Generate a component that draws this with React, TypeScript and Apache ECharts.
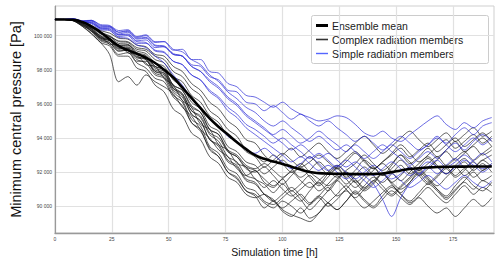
import React, { useEffect, useRef } from 'react';
import * as echarts from 'echarts';

// Simulation time [h], sampled every 4 h
const hours = [0, 4, 8, 12, 16, 20, 24, 28, 32, 36, 40, 44, 48, 52, 56, 60, 64, 68, 72, 76, 80, 84, 88, 92, 96, 100, 104, 108, 112, 116, 120, 124, 128, 132, 136, 140, 144, 148, 152, 156, 160, 164, 168, 172, 176, 180, 184, 188, 192];

// Minimum central pressure [Pa]
const ensembleMean = [100950, 100950, 100930, 100800, 100550, 100200, 99800, 99400, 99150, 98950, 98700, 98400, 98000, 97550, 96950, 96350, 95750, 95150, 94650, 94200, 93750, 93350, 93000, 92780, 92620, 92480, 92320, 92150, 92010, 91940, 91910, 91900, 91890, 91880, 91880, 91890, 91920, 92000, 92100, 92180, 92230, 92270, 92300, 92310, 92320, 92320, 92330, 92330, 92330];

const complex01 = [100950, 100950, 100880, 100550, 100100, 99600, 98900, 97300, 97600, 97100, 97700, 97300, 97000, 96600, 95800, 95300, 94500, 94000, 93300, 92900, 92200, 91800, 92100, 91400, 91100, 91600, 90900, 91300, 91800, 91300, 91900, 92300, 91700, 92100, 92700, 92300, 91800, 92400, 93000, 92500, 92900, 93400, 92900, 93300, 93800, 93200, 93600, 94000, 93500];
const complex02 = [100950, 100950, 100880, 100600, 100250, 99700, 99500, 98900, 99000, 98400, 98100, 97500, 97300, 96400, 95900, 94900, 94400, 93400, 92900, 92000, 91600, 90900, 90600, 89900, 90300, 89700, 89400, 89900, 89300, 89600, 90200, 89800, 90300, 90900, 90400, 90000, 90600, 91100, 90700, 90300, 90800, 91300, 90900, 90400, 90900, 91400, 91000, 91500, 91200];
const complex03 = [100950, 100950, 100900, 100750, 100250, 100000, 99500, 99450, 99000, 98900, 98300, 98200, 97500, 97100, 96200, 95800, 94800, 94500, 93600, 93300, 92500, 92300, 91600, 91300, 90800, 91300, 90700, 90300, 90900, 91400, 90900, 91500, 92000, 91400, 90900, 91300, 91900, 91300, 90800, 91400, 92000, 91500, 91000, 90600, 91200, 91700, 91200, 90900, 91400];
const complex04 = [100950, 100950, 100930, 100700, 100450, 99950, 99800, 99400, 99450, 98900, 98800, 98200, 98000, 97100, 96800, 95900, 95500, 94500, 94200, 93200, 92900, 92200, 92000, 92300, 91800, 91300, 91800, 92300, 91700, 91200, 91700, 92200, 91600, 91100, 91600, 92100, 92500, 92000, 91500, 92000, 92500, 92900, 92400, 91900, 92400, 92800, 92300, 92700, 93000];
const complex05 = [100950, 100950, 100890, 100600, 100300, 99750, 99600, 99100, 99150, 98500, 98500, 97800, 97600, 96700, 96200, 95100, 94700, 93500, 93100, 92200, 91900, 91100, 90900, 90300, 90100, 90500, 90900, 90400, 89800, 90300, 90900, 91500, 91000, 90500, 91000, 91500, 91000, 90600, 91100, 91600, 92100, 91600, 91000, 90500, 91000, 91500, 92000, 91500, 91800];
const complex06 = [100950, 100950, 100940, 100800, 100550, 100150, 99950, 99700, 99650, 99300, 99200, 98800, 98600, 97900, 97600, 96900, 96500, 95600, 95200, 94500, 94100, 93300, 93000, 92600, 93000, 92500, 92000, 92400, 92900, 92400, 91900, 92300, 92800, 93200, 92700, 92200, 92600, 93100, 93600, 93100, 92600, 93000, 93500, 93900, 93400, 93800, 94200, 93700, 94100];
const complex07 = [100950, 100950, 100900, 100650, 100400, 99850, 99700, 99200, 99250, 98700, 98600, 97900, 97800, 96900, 96500, 95400, 95000, 93900, 93600, 92700, 92400, 91600, 91400, 90700, 90400, 89800, 89500, 89300, 89100, 89600, 90200, 90700, 91200, 90700, 91200, 91700, 91200, 90700, 91200, 91700, 92200, 91700, 91200, 91700, 92200, 92600, 92100, 92500, 92000];
const complex08 = [100950, 100950, 100920, 100760, 100500, 100100, 99950, 99550, 99500, 99100, 98950, 98400, 98200, 97400, 97050, 96100, 95700, 94700, 94400, 93500, 93200, 92600, 92400, 91900, 92300, 92700, 92200, 91700, 92100, 92600, 92100, 91700, 92100, 92500, 93000, 92500, 92100, 92500, 93000, 92600, 92100, 92500, 92900, 92400, 92800, 93200, 92700, 93100, 93500];
const complex09 = [100950, 100950, 100880, 100620, 100300, 99800, 99600, 99100, 99150, 98600, 98400, 97700, 97500, 96500, 96100, 94900, 94500, 93300, 92900, 92000, 91700, 90900, 90700, 90200, 89900, 90300, 90000, 89600, 90100, 90600, 90200, 89800, 90300, 90800, 90300, 89900, 90400, 90900, 90500, 90100, 90500, 90000, 89600, 89900, 89400, 89900, 90400, 90000, 90500];
const complex10 = [100950, 100950, 100950, 100850, 100600, 100300, 100150, 99850, 99800, 99450, 99350, 98900, 98800, 98200, 97900, 97200, 96800, 96100, 95700, 95000, 94600, 93900, 93700, 93000, 92600, 93000, 93400, 92900, 93300, 93700, 93200, 92800, 93200, 93700, 94100, 93600, 93100, 93500, 94000, 94400, 93900, 93500, 93900, 94300, 93800, 94200, 94600, 94100, 94400];
const complex11 = [100950, 100950, 100910, 100700, 100400, 99900, 99750, 99350, 99350, 98900, 98750, 98100, 97900, 97000, 96600, 95600, 95200, 94200, 93800, 92900, 92600, 91800, 91600, 91100, 91500, 91000, 90600, 91000, 91400, 90900, 91300, 91800, 91300, 91800, 92300, 91800, 91400, 91900, 92400, 91900, 92300, 92800, 92300, 91900, 92300, 91800, 92200, 92700, 92300];
const complex12 = [100950, 100950, 100900, 100660, 100350, 99850, 99700, 99250, 99250, 98750, 98650, 98000, 97800, 96900, 96600, 95600, 95300, 94300, 94000, 93200, 92900, 92300, 92100, 91600, 91200, 91600, 92000, 91500, 91100, 91500, 92000, 92400, 91900, 91400, 91800, 92300, 91800, 92200, 92700, 92200, 91800, 92200, 92700, 93200, 92700, 93100, 93500, 93000, 93300];
const complex13 = [100950, 100950, 100930, 100780, 100450, 100000, 99850, 99450, 99450, 99000, 98850, 98200, 98000, 97100, 96800, 95800, 95500, 94500, 94200, 93300, 93000, 92400, 92200, 92500, 92100, 91700, 92100, 92500, 92000, 91600, 91200, 91600, 92000, 91600, 91100, 91500, 91900, 91400, 91800, 92300, 91800, 91300, 91700, 92200, 91700, 92100, 92600, 92100, 92500];
const complex14 = [100950, 100950, 100870, 100550, 100150, 99600, 99400, 98800, 98800, 98100, 97900, 97100, 96700, 95700, 95300, 94300, 93900, 92900, 92500, 91700, 91400, 90700, 90500, 90700, 90300, 89900, 90300, 90700, 90200, 90600, 91100, 90600, 91000, 91500, 91000, 91400, 91900, 91400, 91000, 91400, 91900, 91400, 91800, 92300, 91800, 92200, 91700, 92100, 92400];
const complex15 = [100950, 100950, 100940, 100820, 100500, 100200, 100000, 99650, 99600, 99200, 99100, 98600, 98400, 97600, 97300, 96500, 96100, 95300, 94900, 94100, 93800, 93200, 92900, 92300, 92700, 93100, 92700, 92300, 92600, 93000, 92600, 92200, 92600, 93100, 92600, 92200, 92600, 93000, 93400, 92900, 93300, 93700, 93200, 93600, 94000, 93500, 93900, 94300, 93800];
const complex16 = [100950, 100950, 100900, 100700, 100380, 99900, 99750, 99300, 99300, 98800, 98600, 97900, 97700, 96800, 96400, 95400, 95000, 93900, 93500, 92600, 92300, 91500, 91300, 90700, 90300, 90700, 91100, 90600, 90100, 90500, 90000, 90400, 90900, 90400, 89900, 90300, 90800, 91200, 90700, 90200, 90600, 91100, 90600, 90200, 90700, 91200, 90700, 91100, 90800];

const simple1 = [100950, 100950, 100990, 100850, 100900, 100600, 100550, 100200, 100300, 99900, 100000, 99600, 99650, 99150, 99200, 98600, 98600, 97900, 97800, 97200, 97000, 96500, 96400, 96100, 95800, 96100, 95700, 95400, 95200, 95000, 95100, 95300, 95200, 94800, 94300, 94100, 94400, 94000, 93800, 94200, 94600, 95000, 95300, 94800, 94500, 94900, 94600, 95000, 95200];
const simple2 = [100950, 100950, 100960, 100800, 100800, 100450, 100450, 100050, 100100, 99700, 99750, 99300, 99350, 98900, 98800, 98300, 98200, 97600, 97400, 96800, 96700, 96100, 96000, 95600, 95900, 95500, 95100, 95400, 95000, 94700, 95000, 94600, 94200, 93800, 94100, 93700, 93300, 93700, 94100, 93700, 93300, 93600, 94000, 93600, 93200, 93600, 94000, 93600, 94000];
const simple3 = [100950, 100950, 100980, 100820, 100850, 100500, 100500, 100100, 100200, 99800, 99850, 99400, 99350, 98900, 98800, 98200, 97900, 97400, 97000, 96400, 96000, 95400, 95000, 94600, 94200, 94500, 94100, 93700, 94000, 94400, 94000, 93600, 93200, 93600, 93200, 92800, 93200, 93600, 93200, 92800, 93200, 93600, 94100, 93700, 94200, 94600, 94200, 94700, 94900];
const simple4 = [100950, 100950, 100950, 100780, 100750, 100400, 100350, 99950, 100000, 99550, 99550, 99100, 99000, 98500, 98300, 97700, 97400, 96800, 96400, 95800, 95400, 94800, 94500, 94100, 93700, 94000, 93600, 93200, 92800, 93100, 92700, 92300, 92700, 92300, 91800, 91300, 90400, 89400, 90500, 91300, 91800, 92300, 91900, 92400, 92800, 92300, 92700, 93100, 92600];
const simple5 = [100950, 100950, 101000, 100850, 100880, 100550, 100550, 100200, 100250, 99850, 99900, 99450, 99400, 98950, 98800, 98200, 97900, 97300, 96900, 96300, 95900, 95300, 94900, 94500, 94100, 93700, 93300, 93600, 93200, 92800, 93100, 92700, 92300, 92600, 92200, 91800, 92200, 92600, 92200, 91800, 92200, 92600, 92300, 91900, 92300, 92700, 92400, 92000, 92400];
const simple6 = [100950, 100950, 100950, 100800, 100700, 100350, 100300, 99900, 99850, 99450, 99300, 98800, 98400, 97700, 97100, 96300, 95800, 95100, 94700, 94100, 93800, 93300, 93100, 93400, 93000, 92600, 92200, 92500, 92900, 92500, 92100, 92400, 92000, 91600, 92000, 92400, 92000, 91600, 91900, 92300, 91900, 92300, 92700, 92300, 92600, 93000, 92600, 92200, 92500];
const simple7 = [100950, 100950, 100990, 100880, 100900, 100650, 100600, 100300, 100350, 99950, 100050, 99650, 99650, 99200, 99050, 98600, 98300, 97700, 97300, 96700, 96300, 95800, 95500, 95000, 94700, 95000, 94600, 94200, 93800, 94100, 93700, 93300, 93600, 93200, 92800, 93200, 93600, 93200, 92800, 92400, 92800, 93200, 92800, 93300, 93700, 93300, 93800, 94200, 93800];
const simple8 = [100950, 100950, 100960, 100820, 100760, 100450, 100400, 100050, 100050, 99650, 99600, 99150, 99050, 98500, 98300, 97700, 97400, 96700, 96300, 95600, 95200, 94600, 94200, 93800, 93400, 93000, 92600, 92900, 92500, 92100, 92400, 92000, 91600, 91900, 91500, 91100, 91500, 91900, 91500, 91100, 91400, 91800, 91400, 91000, 91400, 91800, 91400, 91100, 91500];

const complexMembers = [complex01, complex02, complex03, complex04, complex05, complex06, complex07, complex08, complex09, complex10, complex11, complex12, complex13, complex14, complex15, complex16];
const simpleMembers = [simple1, simple2, simple3, simple4, simple5, simple6, simple7, simple8];

const yTicks = [90000, 92000, 94000, 96000, 98000, 100000];
const xTicks = [0, 25, 50, 75, 100, 125, 150, 175];
const legendLabels = ['Ensemble mean', 'Complex radiation members', 'Simple radiation members'];

const FONT = 'Liberation Sans, Arial, sans-serif';
const COMPLEX_COLOR = 'rgba(25,25,25,0.78)';
const SIMPLE_COLOR = 'rgba(45,45,215,0.78)';

function fmtPa(v: number) {
  return String(v).replace(/\B(?=(\d{3})+(?!\d))/g, ' ');
}

export default function App() {
  const ref = useRef<HTMLDivElement>(null);
  useEffect(() => {
    const chart = echarts.init(ref.current!, null, { renderer: 'svg' });
    const toData = (vals: number[]) => vals.map((v, i) => [hours[i], v]);

    const series: any[] = [];
    series.push({
      type: 'line',
      name: 'gridlines',
      data: toData(ensembleMean),
      showSymbol: false,
      silent: true,
      z: 0,
      lineStyle: { opacity: 0 },
      markLine: {
        silent: true,
        z: 0,
        symbol: ['none', 'none'],
        label: { show: false },
        lineStyle: { color: '#e1e1e1', width: 1.2, type: 'solid' },
        data: [
          ...yTicks.map((v) => ({ yAxis: v })),
          ...xTicks.filter((v) => v > 0).map((v) => ({ xAxis: v })),
        ],
      },
    });
    complexMembers.forEach((m, k) => {
      series.push({
        type: 'line',
        name: legendLabels[1],
        id: 'complex' + k,
        data: toData(m),
        showSymbol: false,
        smooth: 0.3,
        z: 2,
        lineStyle: { color: COMPLEX_COLOR, width: 0.9 },
      });
    });
    simpleMembers.forEach((m, k) => {
      series.push({
        type: 'line',
        name: legendLabels[2],
        id: 'simple' + k,
        data: toData(m),
        showSymbol: false,
        smooth: 0.3,
        z: 3,
        lineStyle: { color: SIMPLE_COLOR, width: 0.9 },
      });
    });
    series.push({
      type: 'line',
      name: legendLabels[0],
      data: toData(ensembleMean),
      showSymbol: false,
      smooth: true,
      z: 4,
      lineStyle: { color: '#000', width: 2.6 },
    });

    const legendRows = [
      { y: 25.5, color: '#000', w: 3 },
      { y: 39.5, color: '#333', w: 1.6 },
      { y: 53.5, color: '#5566ff', w: 1.4 },
    ];

    chart.setOption({
      animation: false,
      grid: { left: 35.5, right: 6, top: 6, bottom: 28.5, show: true, borderColor: '#cfcfcf', borderWidth: 1 },
      xAxis: {
        type: 'value',
        min: 0,
        max: 193,
        axisLine: { show: true, lineStyle: { color: '#999', width: 1.3 } },
        axisTick: { show: false },
        splitLine: { show: false },
        axisLabel: { customValues: xTicks, fontSize: 5, color: '#444', margin: 3, fontFamily: FONT },
        name: 'Simulation time [h]',
        nameLocation: 'middle',
        nameGap: 13,
        nameTextStyle: { fontSize: 10.5, color: '#111', fontFamily: FONT },
      },
      yAxis: {
        type: 'value',
        min: 88430,
        max: 101740,
        axisLine: { show: true, lineStyle: { color: '#999', width: 1.2 } },
        axisTick: { show: false },
        splitLine: { show: false },
        axisLabel: { customValues: yTicks, formatter: (v: number) => fmtPa(v), fontSize: 5, color: '#444', margin: 3, fontFamily: FONT },
        name: 'Minimum central pressure [Pa]',
        nameLocation: 'middle',
        nameGap: 16,
        nameTextStyle: { fontSize: 14.5, color: '#111', fontFamily: FONT },
      },
      series,
      graphic: [
        {
          type: 'group',
          z: 100,
          children: [
            {
              type: 'rect',
              shape: { x: 311.5, y: 15.5, width: 177, height: 48, r: 2 },
              style: { fill: 'rgba(255,255,255,0.92)', stroke: '#cccccc', lineWidth: 1 },
            },
            ...legendRows.map((r) => ({
              type: 'line',
              shape: { x1: 316, y1: r.y, x2: 328, y2: r.y },
              style: { stroke: r.color, lineWidth: r.w },
            })),
            ...legendRows.map((r, i) => ({
              type: 'text',
              x: 332,
              y: r.y,
              style: { text: legendLabels[i], fontSize: 10.5, fill: '#1a1a1a', verticalAlign: 'middle', fontFamily: FONT },
            })),
          ],
        },
      ],
    });
    return () => chart.dispose();
  }, []);
  return <div ref={ref} style={{ position: 'absolute', left: 0, top: 0, width: 500, height: 262 }} />;
}
